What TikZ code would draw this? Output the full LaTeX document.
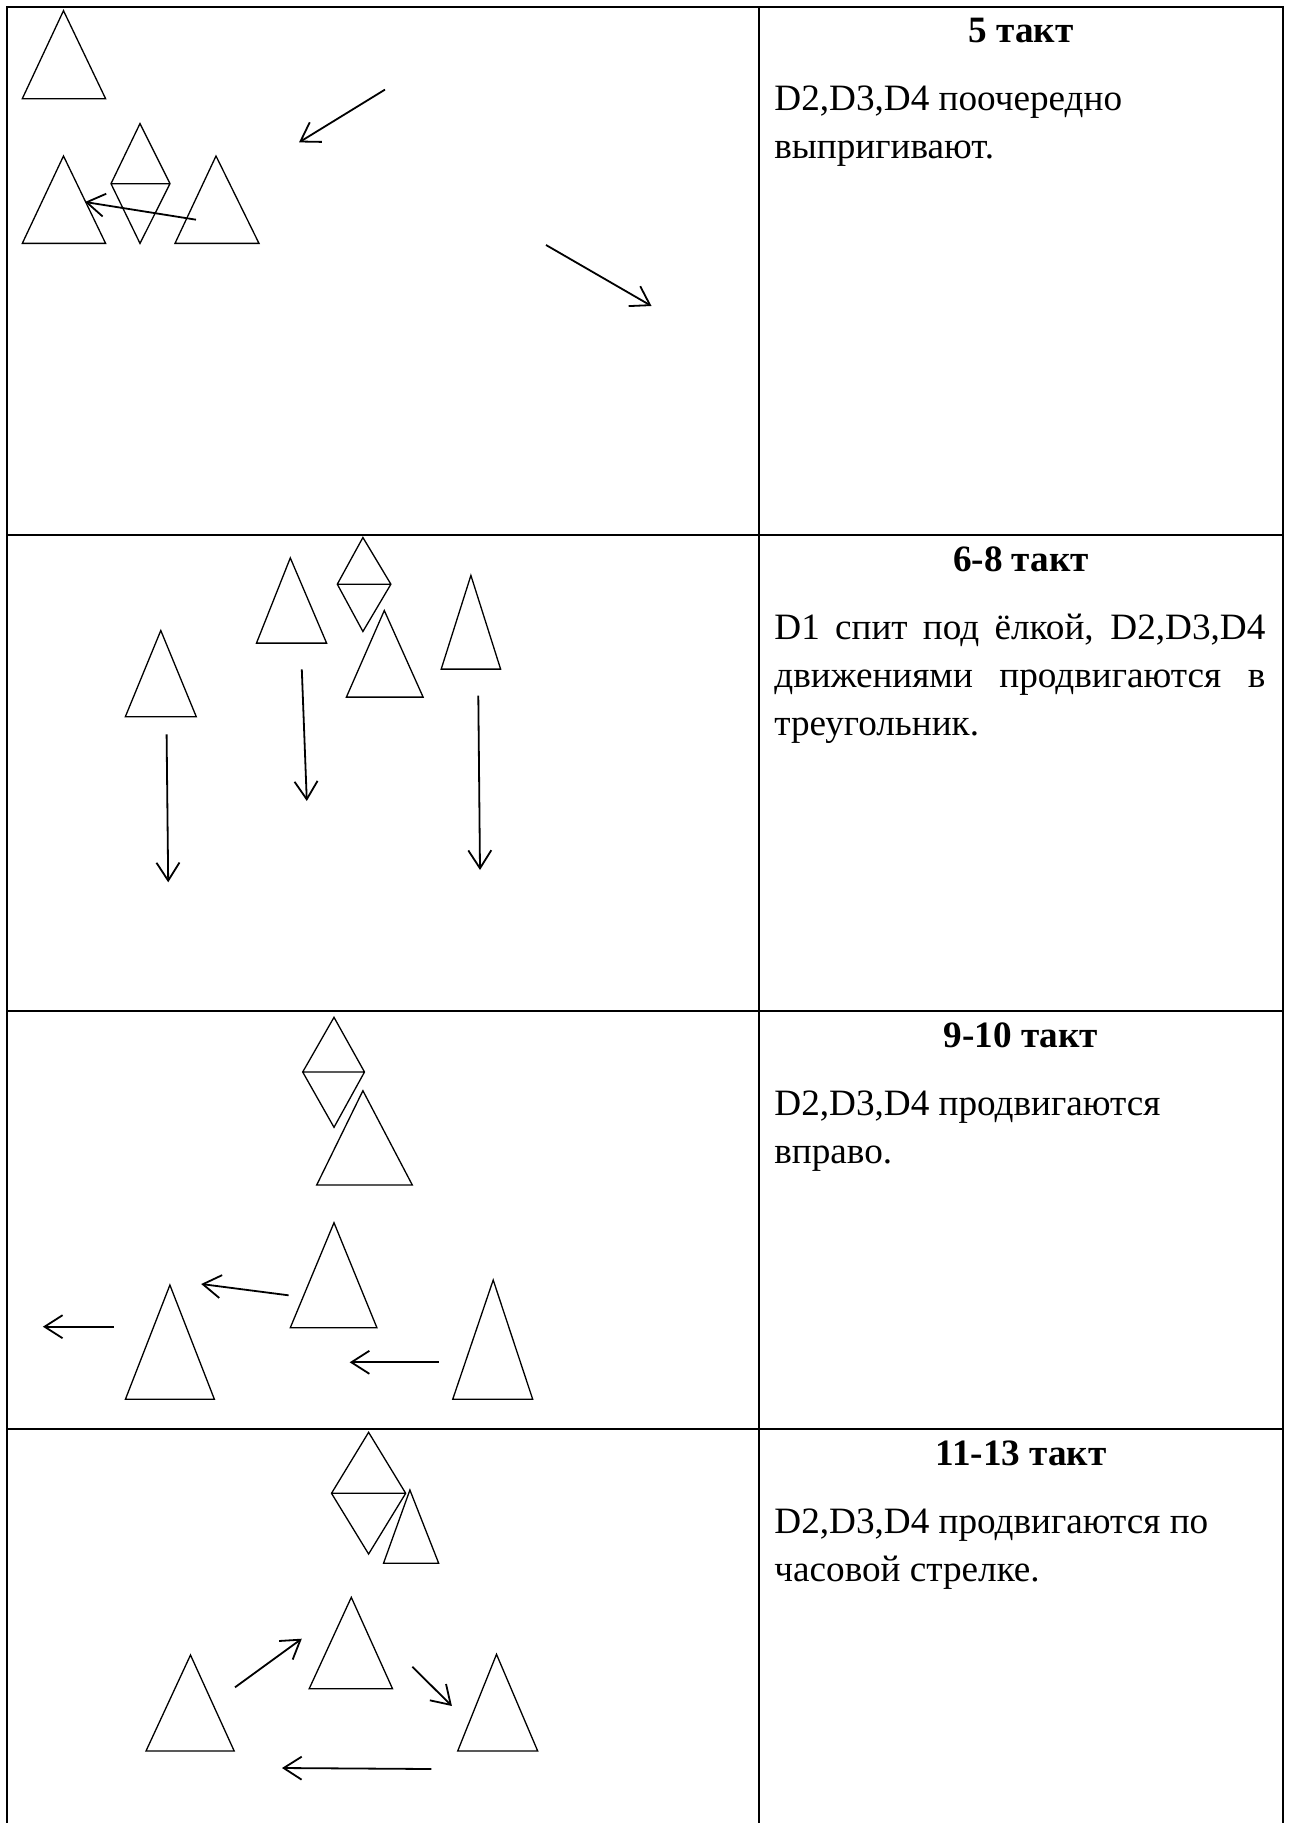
\documentclass[tikz,border=0pt]{standalone}
\usepackage{fontspec}
\setmainfont{Liberation Serif}
\usetikzlibrary{arrows.meta}
\begin{document}
\begin{tikzpicture}[x=0.5pt,y=-0.5pt,
  grid/.style={line width=1pt,line cap=rect},
  fig/.style={line width=0.65pt,line join=miter},
  arr/.style={line width=0.9pt,-{Straight Barb[length=9pt,width=11.5pt,line width=0.9pt]}},
  ttl/.style={anchor=base,inner sep=0pt,font=\fontsize{18.6}{23}\selectfont\bfseries},
  txt/.style={anchor=base west,inner sep=0pt,font=\fontsize{18.6}{23}\selectfont}]
\newcommand\trig[5]{\draw[fig] (#1,#2) -- (#4,#5) -- (#3,#5) -- cycle;}
\newcommand\diam[6]{\draw[fig] (#1,#2) -- (#4,#5) -- (#1,#6) -- (#3,#5) -- cycle (#3,#5) -- (#4,#5);}
\useasboundingbox (0,0) rectangle (1289,1823);
\fill[white] (0,0) rectangle (1289,1823);
% table
\draw[grid] (6.5,1823) -- (6.5,7) -- (1283,7) -- (1283,1823);
\draw[grid] (759,7) -- (759,1823);
\draw[grid] (6.5,535) -- (1283,535);
\draw[grid] (6.5,1011) -- (1283,1011);
\draw[grid] (6.5,1429) -- (1283,1429);
% ---------- row 1
\trig{63.5}{10.7}{22.3}{105.6}{98.7}
\diam{140}{123.6}{111}{170}{183.7}{243.4}
\trig{63.5}{156}{22.3}{105.6}{243.4}
\trig{216}{156}{175}{259}{243.4}
\coordinate (a1s) at (385,89.6);  \coordinate (a1e) at (299,142.4);
\coordinate (a2s) at (196,219.7); \coordinate (a2e) at (85,202);
\coordinate (a3s) at (546,245);   \coordinate (a3e) at (651.5,306);
\draw[arr] (a1s) -- (a1e);
\draw[arr] (a2s) -- (a2e);
\draw[arr] (a3s) -- (a3e);
\node[ttl] (t1) at (1021,43) {5 такт};
\node[txt] (p1a) at (774,111) {D2,D3,D4 поочередно};
\node[txt] (p1b) at (774,159) {выпригивают.};
% ---------- row 2
\trig{160.8}{630.5}{125.3}{196.3}{716.8}
\trig{290.3}{557.9}{256.5}{326.6}{643.1}
\diam{362.9}{537.5}{337.3}{390.9}{584.2}{631.5}
\trig{384.3}{610.5}{346.4}{423.1}{697.1}
\trig{470.9}{575.4}{441.2}{500.6}{669.1}
\coordinate (b1s) at (166.6,734.3); \coordinate (b1e) at (168.2,882.3);
\coordinate (b2s) at (301.8,669.4); \coordinate (b2e) at (306.8,801);
\coordinate (b3s) at (478.3,695.7); \coordinate (b3e) at (480,870);
\draw[arr] (b1s) -- (b1e);
\draw[arr] (b2s) -- (b2e);
\draw[arr] (b3s) -- (b3e);
\node[ttl] (t2) at (1021,571) {6-8 такт};
\node[txt] (p2a) at (774,639) {\makebox[245.5pt][s]{D1 спит под ёлкой, D2,D3,D4}};
\node[txt] (p2b) at (774,687) {\makebox[245.5pt][s]{движениями продвигаются в}};
\node[txt] (p2c) at (774,735) {треугольник.};
% ---------- row 3
\diam{334}{1017.3}{302.7}{364.5}{1072}{1127.3}
\trig{362.9}{1090.7}{316.7}{412.3}{1185}
\trig{334}{1222.7}{290.3}{376.9}{1327.7}
\trig{169.9}{1285}{125.4}{214.4}{1399.3}
\trig{493.2}{1280}{452.7}{532.7}{1399.3}
\coordinate (c1s) at (288.6,1295.3); \coordinate (c1e) at (201.2,1284);
\coordinate (c2s) at (113.8,1326.7); \coordinate (c2e) at (42.9,1326.7);
\coordinate (c3s) at (438.7,1362.3); \coordinate (c3e) at (349.7,1362.3);
\draw[arr] (c1s) -- (c1e);
\draw[arr] (c2s) -- (c2e);
\draw[arr] (c3s) -- (c3e);
\node[ttl] (t3) at (1021,1047) {9-10 такт};
\node[txt] (p3a) at (774,1115) {D2,D3,D4 продвигаются};
\node[txt] (p3b) at (774,1163) {вправо.};
% ---------- row 4
\diam{368.6}{1432.3}{331.5}{405.7}{1493.3}{1554}
\trig{409.9}{1490}{383.5}{438.7}{1563.3}
\trig{351.3}{1597.3}{309.2}{392.5}{1688.7}
\trig{190.5}{1655}{146}{234.2}{1751}
\trig{496.5}{1654.3}{457.7}{537.7}{1751}
\coordinate (d1s) at (235,1687.3);   \coordinate (d1e) at (301.8,1638.7);
\coordinate (d2s) at (412.3,1666.7); \coordinate (d2e) at (451.9,1706);
\coordinate (d3s) at (431.3,1769);   \coordinate (d3e) at (282,1768);
\draw[arr] (d1s) -- (d1e);
\draw[arr] (d2s) -- (d2e);
\draw[arr] (d3s) -- (d3e);
\node[ttl] (t4) at (1021,1465) {11-13 такт};
\node[txt] (p4a) at (774,1533) {D2,D3,D4 продвигаются по};
\node[txt] (p4b) at (774,1581) {часовой стрелке.};
\end{tikzpicture}
\end{document}
